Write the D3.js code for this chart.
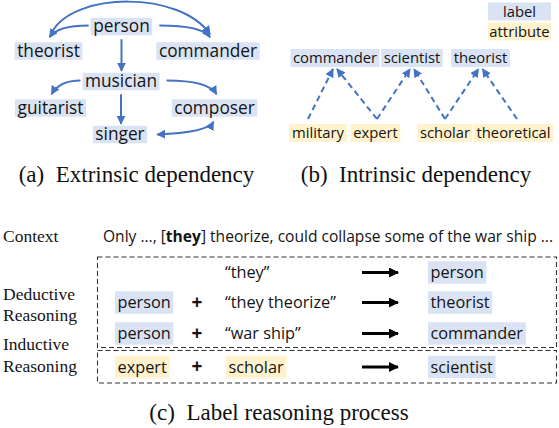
<!DOCTYPE html>
<html>
<head>
<meta charset="utf-8">
<script src="https://cdn.jsdelivr.net/npm/d3@7"></script>
<style>
  html, body { margin: 0; padding: 0; background: #fff; }
  svg { display: block; }
</style>
</head>
<body>
<svg id="fig" width="559" height="428"></svg>
<script>
// ── Data ─────────────────────────────────────────────────────────────────────
// (a) extrinsic dependency: label hierarchy
const extrinsicNodes = ['person', 'theorist', 'commander', 'musician', 'guitarist', 'composer', 'singer'];
const extrinsicEdges = [
  ['person', 'theorist'], ['person', 'commander'], ['theorist', 'commander'],
  ['person', 'musician'], ['musician', 'guitarist'], ['musician', 'composer'],
  ['musician', 'singer'], ['singer', 'composer']
];
// (b) intrinsic dependency: attributes -> labels
const intrinsicLabels     = ['commander', 'scientist', 'theorist'];
const intrinsicAttributes = ['military', 'expert', 'scholar', 'theoretical'];
const intrinsicLinks = [
  ['military', 'commander'], ['expert', 'commander'], ['expert', 'scientist'],
  ['scholar', 'scientist'], ['scholar', 'theorist'], ['theoretical', 'theorist']
];
const legendItems = [['label', 'label'], ['attribute', 'attribute']];
// (c) label reasoning process
const contextParts = [['Only ..., [', false], ['they', true], ['] theorize, could collapse some of the war ship ...', false]];
const reasoningRows = [
  { group: 'deductive', left: null,                                 cue: { text: '\u201cthey\u201d', kind: 'plain' },            result: 'person' },
  { group: 'deductive', left: { text: 'person', kind: 'label' },    cue: { text: '\u201cthey theorize\u201d', kind: 'plain' },   result: 'theorist' },
  { group: 'deductive', left: { text: 'person', kind: 'label' },    cue: { text: '\u201cwar ship\u201d', kind: 'plain' },        result: 'commander' },
  { group: 'inductive', left: { text: 'expert', kind: 'attribute' }, cue: { text: 'scholar', kind: 'attribute' },              result: 'scientist' }
];
const groupTitles = [['deductive', ['Deductive', 'Reasoning']], ['inductive', ['Inductive', 'Reasoning']]];
const captions = ['(a)\u2002Extrinsic dependency', '(b)\u2002Intrinsic dependency', '(c)\u2002Label reasoning process'];

// ── Style ────────────────────────────────────────────────────────────────────
const SANS  = '"Open Sans", "Noto Sans", sans-serif';
const SERIF = '"Liberation Serif", "Times New Roman", serif';
const FILL  = { label: '#dae3f3', attribute: '#fff2cc', plain: 'none' };
const BLUE  = '#4472c4';
const INK   = '#141414';

const svg = d3.select('#fig');
const defs = svg.append('defs');

function marker(id, color, w, h) {
  defs.append('marker')
    .attr('id', id).attr('viewBox', '0 0 10 10')
    .attr('refX', 9).attr('refY', 5)
    .attr('markerUnits', 'userSpaceOnUse')
    .attr('markerWidth', w).attr('markerHeight', h)
    .attr('orient', 'auto-start-reverse')
    .append('path').attr('d', 'M0,0 L10,5 L0,10 Z').attr('fill', color);
}
marker('head-blue', BLUE, 9, 9);
marker('head-black', '#000', 12, 10);

// Tag: text with a coloured box behind it. anchor 'middle' uses x as centre, 'start' as left edge
function tag(g, text, x, cy, kind, size, opts = {}) {
  const anchor = opts.anchor || 'middle';
  const pad = opts.pad ?? 2.5;
  const h = opts.h ?? 18;
  const grp = g.append('g');
  const rect = grp.append('rect');
  const t = grp.append('text')
    .attr('x', anchor === 'start' ? x + pad : x)
    .attr('y', cy + size * 0.34)
    .attr('text-anchor', anchor)
    .attr('font-family', SANS).attr('font-size', size)
    .attr('fill', INK)
    .text(text);
  const bb = t.node().getBBox();
  const w = opts.w ?? bb.width + pad * 2;
  const left = anchor === 'start' ? x : x - w / 2;
  rect.attr('x', left).attr('y', cy - h / 2).attr('width', w).attr('height', h)
    .attr('fill', FILL[kind]);
  return { left, right: left + w, top: cy - h / 2, bottom: cy + h / 2, cx: left + w / 2, cy };
}

// ── (a) Extrinsic dependency ─────────────────────────────────────────────────
const gA = svg.append('g');
const colA = d3.scaleOrdinal().domain(extrinsicNodes).range([121.5, 48.5, 208, 121, 50.5, 214.5, 120]);
const rowA = d3.scaleOrdinal().domain(extrinsicNodes).range([26.5, 51, 51, 81.5, 108, 108, 134.5]);

const boxA = {};
extrinsicNodes.forEach(n => { boxA[n] = tag(gA, n, colA(n), rowA(n), 'label', 17.3, { h: 17.5 }); });

// edge path for each pair, built from the boxes
function edgePathA(src, dst) {
  const s = boxA[src], d = boxA[dst];
  if (Math.abs(s.cx - d.cx) < 4) {                       // vertical drop
    return `M${s.cx},${s.bottom + 4} L${s.cx},${d.top - 2}`;
  }
  if (src === 'theorist') {                              // big arc over the top
    const x0 = s.cx + 4, y0 = s.top - 11;
    const x1 = d.cx + 2, y1 = d.top - 8;
    return `M${x0},${y0} C${x0 + 22},${s.top - 50} ${x1 - 30},${d.top - 52} ${x1},${y1}`;
  }
  if (src === 'singer') {                                // singer <-> composer
    const x0 = s.right + 10, y0 = s.cy;
    const x1 = d.cx - 1, y1 = d.bottom + 5;
    return `M${x0},${y0} Q${x1 - 6},${y0 - 2} ${x1},${y1}`;
  }
  const left = d.cx < s.cx;
  const x0 = left ? s.left - 2 : s.right + 7, y0 = s.cy - 1;
  const x1 = d.cx + (left ? 1 : 2), y1 = d.top - 5;
  return `M${x0},${y0} Q${x1 + (left ? 8 : -8)},${y0} ${x1},${y1}`;
}

gA.selectAll('path.edge')
  .data(extrinsicEdges)
  .join('path')
  .attr('class', 'edge')
  .attr('d', d => edgePathA(d[0], d[1]))
  .attr('fill', 'none').attr('stroke', BLUE).attr('stroke-width', 2)
  .attr('marker-end', 'url(#head-blue)')
  .attr('marker-start', d => d[0] === 'singer' ? 'url(#head-blue)' : null);

// ── (b) Intrinsic dependency ─────────────────────────────────────────────────
const gB = svg.append('g');
const labX  = d3.scaleOrdinal().domain(intrinsicLabels).range([335, 412, 480.5]);
const attrX = d3.scaleOrdinal().domain(intrinsicAttributes).range([318, 375.5, 445, 513.5]);
const yLab = 58, yAttr = 133;

const boxB = {};
intrinsicLabels.forEach(n => { boxB['L' + n] = tag(gB, n, labX(n), yLab, 'label', 14.8); });
intrinsicAttributes.forEach(n => { boxB['A' + n] = tag(gB, n, attrX(n), yAttr, 'attribute', 14.8); });

const legendY = d3.scalePoint().domain(legendItems.map(d => d[0])).range([11.5, 31.5]);
legendItems.forEach(([text, kind]) => tag(gB, text, 519.5, legendY(text), kind, 14.8, { w: 63 }));

// endpoints: attribute -> label, spread apart at the label end
const linkEnds = intrinsicLinks.map(([a, l]) => {
  const A = boxB['A' + a], L = boxB['L' + l];
  const sameLeft = intrinsicLinks.filter(k => k[1] === l);
  const k = sameLeft.findIndex(k => k[0] === a);
  const dx = sameLeft.length > 1 ? (k === 0 ? -2 : 2) : 0;
  const bottom = { military: 308, expert: 377, scholar: 445, theoretical: 517 }[a];
  return { x0: bottom, y0: A.top - 5, x1: L.cx + dx, y1: L.bottom + 2 };
});

gB.selectAll('line.link')
  .data(linkEnds)
  .join('line')
  .attr('class', 'link')
  .attr('x1', d => d.x0).attr('y1', d => d.y0)
  .attr('x2', d => d.x1).attr('y2', d => d.y1)
  .attr('stroke', BLUE).attr('stroke-width', 2)
  .attr('stroke-dasharray', '6,4')
  .attr('marker-end', 'url(#head-blue)');

// ── Captions ─────────────────────────────────────────────────────────────────
const capPos = [[136.5, 182], [416, 182], [279, 420]];
svg.selectAll('text.caption')
  .data(captions)
  .join('text')
  .attr('class', 'caption')
  .attr('x', (d, i) => capPos[i][0]).attr('y', (d, i) => capPos[i][1])
  .attr('text-anchor', 'middle')
  .attr('font-family', SERIF).attr('font-size', 23)
  .attr('fill', '#111')
  .text(d => d);

// ── (c) Label reasoning process ──────────────────────────────────────────────
const gC = svg.append('g');
gC.append('text')
  .attr('x', 3).attr('y', 242)
  .attr('font-family', SERIF).attr('font-size', 17.5).attr('fill', INK)
  .text('Context');

const ctx = gC.append('text')
  .attr('x', 103).attr('y', 242)
  .attr('font-family', SANS).attr('font-size', 15.5).attr('fill', INK);
ctx.selectAll('tspan')
  .data(contextParts)
  .join('tspan')
  .attr('font-weight', d => d[1] ? 700 : 400)
  .text(d => d[0]);
ctx.attr('textLength', 450).attr('lengthAdjust', 'spacingAndGlyphs');

const rowY = d3.scaleOrdinal().domain(d3.range(reasoningRows.length)).range([272.5, 302.5, 333.5, 367]);
const colC = { left: 115, plus: 197, cue: 226, arrow0: 362, arrow1: 398, result: 428 };
const SIZE_C = 16.3;

reasoningRows.forEach((r, i) => {
  const y = rowY(i);
  if (r.left) {
    tag(gC, r.left.text, colC.left, y, r.left.kind, SIZE_C, { anchor: 'start', h: 22.5 });
    gC.append('text')
      .attr('x', colC.plus).attr('y', y + 6)
      .attr('text-anchor', 'middle')
      .attr('font-family', SANS).attr('font-size', 19).attr('font-weight', 700)
      .attr('fill', INK).text('+');
  }
  if (r.cue.kind === 'plain') {
    gC.append('text')
      .attr('x', colC.cue - 1).attr('y', y + SIZE_C * 0.34)
      .attr('font-family', SANS).attr('font-size', SIZE_C).attr('fill', INK)
      .text(r.cue.text);
  } else {
    tag(gC, r.cue.text, colC.cue, y, r.cue.kind, SIZE_C, { anchor: 'start', h: 22.5 });
  }
  gC.append('line')
    .attr('x1', colC.arrow0).attr('y1', y)
    .attr('x2', colC.arrow1).attr('y2', y)
    .attr('stroke', '#000').attr('stroke-width', 3)
    .attr('marker-end', 'url(#head-black)');
  tag(gC, r.result, colC.result, y, 'label', SIZE_C, { anchor: 'start', h: 22.5 });
});

// dashed group frames
const frames = { deductive: [257, 347.5], inductive: [350.5, 383] };
groupTitles.forEach(([key, lines]) => {
  const [y0, y1] = frames[key];
  gC.append('rect')
    .attr('x', 97.5).attr('y', y0).attr('width', 459).attr('height', y1 - y0)
    .attr('fill', 'none').attr('stroke', '#333').attr('stroke-width', 1.1)
    .attr('stroke-dasharray', '5,3');
});
const titleY = { deductive: [300, 321], inductive: [350, 372] };
groupTitles.forEach(([key, lines]) => {
  gC.selectAll(null)
    .data(lines)
    .join('text')
    .attr('x', 3).attr('y', (d, i) => titleY[key][i])
    .attr('font-family', SERIF).attr('font-size', 17.5).attr('fill', INK)
    .text(d => d);
});
</script>
</body>
</html>
